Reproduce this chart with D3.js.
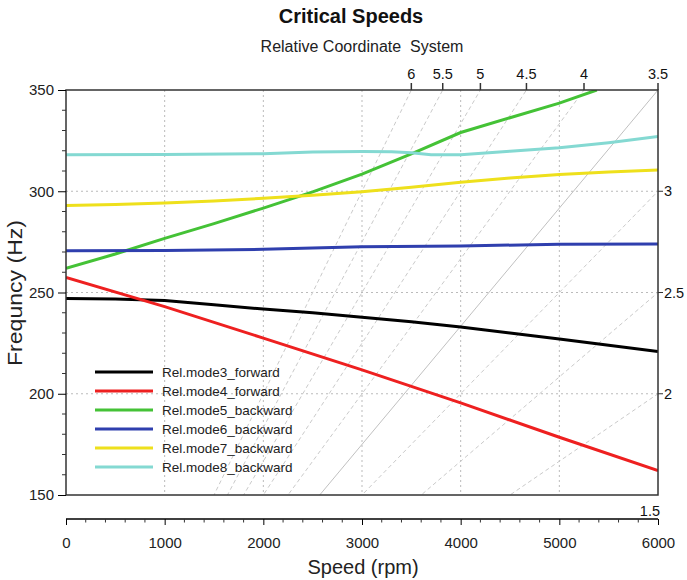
<!DOCTYPE html>
<html>
<head>
<meta charset="utf-8">
<script src="https://cdn.jsdelivr.net/npm/d3@7"></script>
<style>
body { margin: 0; background: #fff; }
text { font-family: "Liberation Sans", Arial, sans-serif; fill: #111; }
</style>
</head>
<body>
<div id="chart"></div>
<script>
// values (speed in rpm, frequency in Hz)
var mode3Speed = [0, 500, 1000, 1500, 2000, 2500, 3000, 3500, 4000, 4500, 5000, 5500, 6000];
var mode3Freq  = [247, 246.8, 246, 244, 241.8, 240, 237.8, 235.5, 233, 230, 227, 224, 220.8];

var mode4Speed = [0, 1000, 2000, 3000, 4000, 5000, 6000];
var mode4Freq  = [257.5, 243, 227.5, 211.8, 195.5, 178.5, 162];

var mode5Speed = [0, 500, 1000, 1500, 2000, 2500, 3000, 3500, 4000, 4500, 5000, 5380];
var mode5Freq  = [262, 269, 276.7, 284, 291.7, 299.7, 308.5, 318.5, 329, 336.3, 343.5, 350];

var mode6Speed = [0, 1000, 2000, 2500, 3000, 4000, 5000, 6000];
var mode6Freq  = [270.6, 270.8, 271.3, 272, 272.6, 273, 273.8, 274];

var mode7Speed = [0, 500, 1000, 1500, 2000, 2500, 3000, 3500, 4000, 4500, 5000, 5500, 6000];
var mode7Freq  = [293, 293.4, 294.2, 295.2, 296.5, 298, 299.8, 302, 304.5, 306.5, 308.3, 309.5, 310.5];

var mode8Speed = [0, 1000, 2000, 2500, 3000, 3300, 3500, 3700, 4000, 4500, 5000, 5500, 6000];
var mode8Freq  = [318, 318.1, 318.5, 319.4, 319.6, 319.5, 319, 318, 318, 319.8, 321.5, 324, 327];

var seriesNames  = ["Rel.mode3_forward", "Rel.mode4_forward", "Rel.mode5_backward",
                    "Rel.mode6_backward", "Rel.mode7_backward", "Rel.mode8_backward"];
var seriesColors = ["#000000", "#ee2020", "#44c236", "#2f3fae", "#eee01c", "#84d9d2"];

var orders = [1.5, 2, 2.5, 3, 3.5, 4, 4.5, 5, 5.5, 6];
var topOrders = [6, 5.5, 5, 4.5, 4, 3.5];
var rightOrders = [3, 2.5, 2];
var speedTicks = [0, 1000, 2000, 3000, 4000, 5000, 6000];
var freqTicks = [150, 200, 250, 300, 350];

var series = [
  [mode3Speed, mode3Freq], [mode4Speed, mode4Freq], [mode5Speed, mode5Freq],
  [mode6Speed, mode6Freq], [mode7Speed, mode7Freq], [mode8Speed, mode8Freq]
];

var width = 687, height = 580;
var pLeft = 66, pRight = 658, pTop = 90, pBottom = 495;

var x = d3.scaleLinear().domain([0, 6000]).range([pLeft, pRight]);
var y = d3.scaleLinear().domain([150, 350]).range([pBottom, pTop]);

var svg = d3.select("#chart").append("svg")
    .attr("width", width)
    .attr("height", height);

svg.append("defs").append("clipPath").attr("id", "plot")
  .append("rect")
    .attr("x", pLeft).attr("y", pTop)
    .attr("width", pRight - pLeft).attr("height", pBottom - pTop);

// titles
svg.append("text")
    .attr("x", 351).attr("y", 23)
    .attr("text-anchor", "middle")
    .style("font-size", "20px").style("font-weight", "bold")
    .text("Critical Speeds");

svg.append("text")
    .attr("x", 362).attr("y", 52)
    .attr("text-anchor", "middle")
    .attr("xml:space", "preserve")
    .style("font-size", "16px").style("fill", "#222")
    .text("Relative Coordinate  System");

// grid
var grid = svg.append("g").attr("clip-path", "url(#plot)");

grid.selectAll(".vgrid")
  .data(speedTicks.slice(1, -1))
  .enter().append("line")
    .attr("x1", function (d) { return x(d); })
    .attr("x2", function (d) { return x(d); })
    .attr("y1", pTop).attr("y2", pBottom)
    .attr("stroke", "#bbb").attr("stroke-dasharray", "2,3");

grid.selectAll(".hgrid")
  .data([200, 250, 300])
  .enter().append("line")
    .attr("x1", pLeft).attr("x2", pRight)
    .attr("y1", function (d) { return y(d); })
    .attr("y2", function (d) { return y(d); })
    .attr("stroke", "#bbb").attr("stroke-dasharray", "2,3");

// order lines  f = order * rpm / 60
grid.selectAll(".order")
  .data(orders)
  .enter().append("line")
    .attr("x1", x(0)).attr("y1", y(0))
    .attr("x2", x(6000))
    .attr("y2", function (d) { return y(d * 6000 / 60); })
    .attr("stroke", function (d) { return d === 3.5 ? "#c0c0c0" : "#cacaca"; })
    .attr("stroke-width", 1)
    .attr("stroke-dasharray", function (d) { return d === 3.5 ? null : "4,3"; });

// mode lines
var line = d3.line()
    .x(function (d) { return x(d[0]); })
    .y(function (d) { return y(d[1]); });

grid.selectAll(".mode")
  .data(series)
  .enter().append("path")
    .attr("d", function (s) { return line(d3.zip(s[0], s[1])); })
    .attr("fill", "none")
    .attr("stroke", function (s, i) { return seriesColors[i]; })
    .attr("stroke-width", 3);

// frame
svg.append("rect")
    .attr("x", pLeft).attr("y", pTop)
    .attr("width", pRight - pLeft).attr("height", pBottom - pTop)
    .attr("fill", "none").attr("stroke", "#333").attr("stroke-width", 1.5);

// left axis
var yAxis = d3.axisLeft(y).tickValues(freqTicks).tickSize(8).tickPadding(4);
var gy = svg.append("g").attr("transform", "translate(" + pLeft + ",0)").call(yAxis);
gy.select(".domain").remove();
gy.selectAll("text").style("font-size", "15px").style("font-family", "Liberation Sans, Arial, sans-serif").style("fill", "#222");

svg.append("g").selectAll("line")
  .data(d3.range(160, 350, 10).filter(function (d) { return d % 50 !== 0; }))
  .enter().append("line")
    .attr("x1", pLeft - 4).attr("x2", pLeft)
    .attr("y1", function (d) { return y(d); })
    .attr("y2", function (d) { return y(d); })
    .attr("stroke", "#333");

svg.append("text")
    .attr("transform", "translate(22,293) rotate(-90)")
    .attr("text-anchor", "middle")
    .attr("textLength", 146)
    .attr("lengthAdjust", "spacingAndGlyphs")
    .style("font-size", "20px").style("fill", "#222")
    .text("Frequncy (Hz)");

// bottom axis (detached)
var axisY = 519;
var xAxis = d3.axisBottom(x).tickValues(speedTicks).tickSize(6).tickPadding(12).tickFormat(d3.format("d"));
var gx = svg.append("g").attr("transform", "translate(0," + axisY + ")").call(xAxis);
gx.select(".domain").attr("d", "M" + pLeft + ",0H" + pRight).attr("stroke-width", 1.5);
gx.selectAll("text").style("font-size", "15px").style("font-family", "Liberation Sans, Arial, sans-serif").style("fill", "#222");

svg.append("g").selectAll("line")
  .data(d3.range(200, 6000, 200).filter(function (d) { return d % 1000 !== 0; }))
  .enter().append("line")
    .attr("x1", function (d) { return x(d); })
    .attr("x2", function (d) { return x(d); })
    .attr("y1", axisY).attr("y2", axisY + 3.5)
    .attr("stroke", "#333");

svg.append("text")
    .attr("x", 363).attr("y", 574)
    .attr("text-anchor", "middle")
    .style("font-size", "20px").style("fill", "#222")
    .text("Speed (rpm)");

// top axis: order lines crossing 350 Hz
var gt = svg.append("g");
gt.selectAll("line")
  .data(topOrders)
  .enter().append("line")
    .attr("x1", function (d) { return x(350 * 60 / d); })
    .attr("x2", function (d) { return x(350 * 60 / d); })
    .attr("y1", pTop - 7).attr("y2", pTop)
    .attr("stroke", "#333").attr("stroke-width", 1.5);
gt.selectAll("text")
  .data(topOrders)
  .enter().append("text")
    .attr("x", function (d) { return x(350 * 60 / d); })
    .attr("y", pTop - 11)
    .attr("text-anchor", "middle")
    .style("font-size", "14.5px")
    .text(function (d) { return d; });

// right axis: order lines crossing 6000 rpm
var gr = svg.append("g");
gr.selectAll("line")
  .data(rightOrders)
  .enter().append("line")
    .attr("x1", pRight).attr("x2", pRight + 5)
    .attr("y1", function (d) { return y(d * 100); })
    .attr("y2", function (d) { return y(d * 100); })
    .attr("stroke", "#333");
gr.selectAll("text")
  .data(rightOrders)
  .enter().append("text")
    .attr("x", pRight + 6)
    .attr("y", function (d) { return y(d * 100); })
    .attr("dy", "0.35em")
    .style("font-size", "14.5px")
    .text(function (d) { return d; });

svg.append("text")
    .attr("x", pRight + 2).attr("y", pBottom + 21)
    .attr("text-anchor", "end")
    .style("font-size", "14.5px")
    .text(orders[0]);

// legend
var legend = svg.append("g").selectAll("g")
  .data(seriesNames)
  .enter().append("g")
    .attr("transform", function (d, i) { return "translate(95," + (372 + i * 19) + ")"; });

legend.append("line")
    .attr("x1", 0).attr("x2", 58)
    .attr("stroke", function (d, i) { return seriesColors[i]; })
    .attr("stroke-width", 3);

legend.append("text")
    .attr("x", 67).attr("dy", "0.35em")
    .style("font-size", "13.5px").style("fill", "#222")
    .text(function (d) { return d; });
</script>
</body>
</html>
